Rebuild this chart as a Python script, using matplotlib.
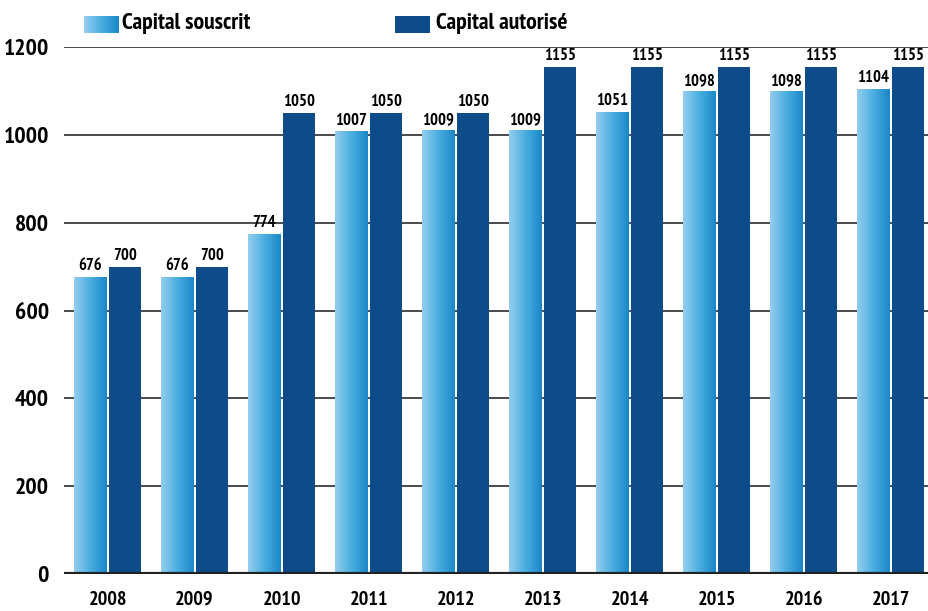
import numpy as np
import matplotlib
matplotlib.use("Agg")
import matplotlib.pyplot as plt
from matplotlib.colors import LinearSegmentedColormap

plt.rcParams['font.family'] = ['PT Sans Narrow', 'DejaVu Sans']
plt.rcParams['font.weight'] = 'bold'

years = ['2008', '2009', '2010', '2011', '2012', '2013', '2014', '2015', '2016', '2017']
souscrit = [676, 676, 774, 1007, 1009, 1009, 1051, 1098, 1098, 1104]
autorise = [700, 700, 1050, 1050, 1050, 1155, 1155, 1155, 1155, 1155]
yticks = [0, 200, 400, 600, 800, 1000, 1200]

dark_blue = '#0d4b8b'
grad = LinearSegmentedColormap.from_list('grad', ['#94cdee', '#4aaee0', '#1a88c8'])
grad_img = np.linspace(0, 1, 64).reshape(1, -1)

fig = plt.figure(figsize=(9.29, 6.11), dpi=100)
ax = fig.add_axes([0.069, 0.0606, 0.93, 0.8624])

x = np.arange(len(years))
w = 0.37
b1 = ax.bar(x - 0.2, souscrit, w, color='none', zorder=3)
b2 = ax.bar(x + 0.2, autorise, w, color=dark_blue, zorder=3)

# degradé pour les barres claires
for bar in b1:
    x0, y0 = bar.get_x(), bar.get_y()
    ax.imshow(grad_img, cmap=grad, aspect='auto', zorder=3,
              extent=[x0, x0 + bar.get_width(), y0, y0 + bar.get_height()])

for bars, vals in ((b1, souscrit), (b2, autorise)):
    for bar, v in zip(bars, vals):
        ax.text(bar.get_x() + bar.get_width() / 2, v + 7, str(v),
                ha='center', va='bottom', fontsize=12, fontweight='bold', zorder=4)

ax.set_xlim(-0.5, 9.43)
ax.set_ylim(0, 1200)
ax.set_yticks(yticks)
ax.set_yticklabels([str(t) for t in yticks], fontsize=17, fontweight='bold')
ax.set_xticks(x)
ax.set_xticklabels(years, fontsize=14.5, fontweight='bold')
ax.tick_params(axis='both', length=0)
ax.tick_params(axis='y', pad=11)
ax.tick_params(axis='x', pad=12)

for t in yticks[1:]:
    ax.axhline(t, color='#4a4a4a', lw=1.4, zorder=1)
ax.axhline(0, color='#222222', lw=3, zorder=5)

for s in ax.spines.values():
    s.set_visible(False)

# legende
sw1 = fig.add_axes([84 / 929, 1 - 33 / 611, 34 / 929, 17 / 611])
sw1.imshow(grad_img, cmap=grad, aspect='auto')
sw1.axis('off')
fig.text(122 / 929, 1 - 23 / 611, 'Capital souscrit', fontsize=17, fontweight='bold', va='center')
sw2 = fig.add_axes([395 / 929, 1 - 33 / 611, 35 / 929, 17 / 611])
sw2.set_facecolor(dark_blue)
sw2.set_xticks([])
sw2.set_yticks([])
for s in sw2.spines.values():
    s.set_visible(False)
fig.text(436 / 929, 1 - 23 / 611, 'Capital autorisé', fontsize=17, fontweight='bold', va='center')

fig.savefig('out.png', dpi=100)
